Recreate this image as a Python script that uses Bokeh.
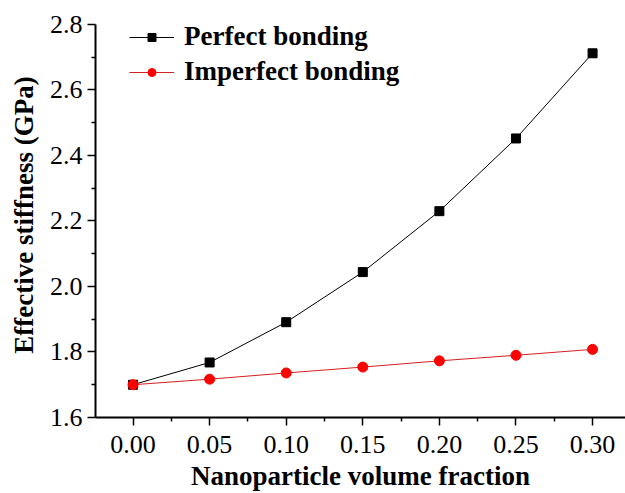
from bokeh.plotting import figure
from bokeh.models import Range1d, FixedTicker, Legend, LegendItem
from bokeh.embed import file_html
from bokeh.resources import INLINE

volume_fraction = [0.00, 0.05, 0.10, 0.15, 0.20, 0.25, 0.30]
perfect_bonding = [1.700, 1.768, 1.891, 2.044, 2.230, 2.452, 2.712]
imperfect_bonding = [1.700, 1.717, 1.736, 1.754, 1.773, 1.790, 1.808]
x_ticks = [0.00, 0.05, 0.10, 0.15, 0.20, 0.25, 0.30]
y_ticks = [1.6, 1.8, 2.0, 2.2, 2.4, 2.6, 2.8]

FONT = "Liberation Serif"

p = figure(width=625, height=493, output_backend="svg", toolbar_location=None,
           x_range=Range1d(-0.0245, 0.3215), y_range=Range1d(1.6, 2.8366),
           min_border_left=95, min_border_right=0, min_border_top=12, min_border_bottom=76)
p.outline_line_color = None
p.grid.visible = False
p.background_fill_color = "white"
p.border_fill_color = "white"

l1 = p.line(volume_fraction, perfect_bonding, line_color="black", line_width=1)
s1 = p.scatter(volume_fraction, perfect_bonding, marker="square", size=9,
               fill_color="black", line_color="black")
l2 = p.line(volume_fraction, imperfect_bonding, line_color="#d42020", line_width=1)
s2 = p.scatter(volume_fraction, imperfect_bonding, marker="circle", size=10,
               fill_color="#ff0000", line_color="#ff0000")

for ax in (p.xaxis[0], p.yaxis[0]):
    ax.axis_line_width = 2
    ax.axis_line_color = "black"
    ax.major_tick_line_width = 1.5
    ax.minor_tick_line_width = 1.5
    ax.major_tick_out = 8
    ax.major_tick_in = 0
    ax.minor_tick_out = 4
    ax.minor_tick_in = 0
    ax.major_label_text_font = FONT
    ax.major_label_text_font_size = "26px"
    ax.major_label_text_color = "black"
    ax.axis_label_text_font = FONT
    ax.axis_label_text_font_size = "27px"
    ax.axis_label_text_font_style = "bold"
    ax.axis_label_text_color = "black"

p.yaxis.bounds = (1.6, 2.8)
p.xaxis.ticker = FixedTicker(ticks=x_ticks,
                             minor_ticks=[-0.025, 0.025, 0.075, 0.125, 0.175, 0.225, 0.275, 0.325])
p.yaxis.ticker = FixedTicker(ticks=y_ticks,
                             minor_ticks=[1.7, 1.9, 2.1, 2.3, 2.5, 2.7])
p.xaxis.major_label_overrides = {t: f"{t:.2f}" for t in x_ticks}
p.yaxis.major_label_overrides = {t: f"{t:.1f}" for t in y_ticks}
p.xaxis.major_label_standoff = 10
p.yaxis.major_label_standoff = 5
p.xaxis.axis_label = "Nanoparticle volume fraction"
p.yaxis.axis_label = "Effective stiffness (GPa)"
p.xaxis.axis_label_standoff = 5
p.yaxis.axis_label_standoff = 8

legend = Legend(items=[LegendItem(label="Perfect bonding", renderers=[l1, s1]),
                       LegendItem(label="Imperfect bonding", renderers=[l2, s2])],
                location=(34, 330))
legend.padding = 0
legend.margin = 0
legend.spacing = 4
legend.glyph_width = 45
legend.glyph_height = 20
legend.label_height = 20
legend.label_standoff = 10
legend.label_text_font = FONT
legend.label_text_font_size = "27px"
legend.label_text_font_style = "bold"
legend.label_text_color = "black"
legend.border_line_color = None
legend.background_fill_alpha = 0
p.add_layout(legend, "center")

open("out.html", "w").write(file_html(p, INLINE))
